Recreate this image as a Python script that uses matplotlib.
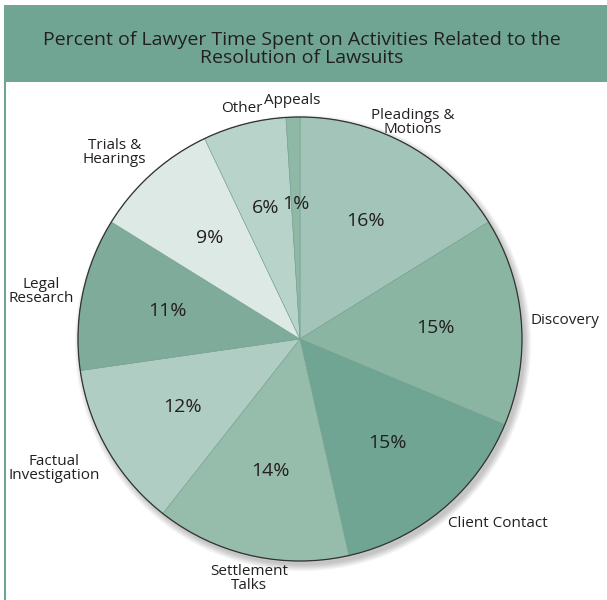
import matplotlib.pyplot as plt
from matplotlib.patches import Rectangle, Circle
import numpy as np

plt.rcParams['font.family'] = ['Open Sans', 'DejaVu Sans']

# data
activities = ['Pleadings &\nMotions', 'Discovery', 'Client Contact', 'Settlement\nTalks',
              'Factual\nInvestigation', 'Legal\nResearch', 'Trials &\nHearings', 'Other', 'Appeals']
percent = [16, 15, 15, 14, 12, 11, 9, 6, 1]
colors = ['#a3c4b8', '#8ab5a3', '#6fa592', '#96bcab', '#b0cdc3',
          '#7fac9a', '#dde9e5', '#b8d3c9', '#8fb8a6']
title = 'Percent of Lawyer Time Spent on Activities Related to the\nResolution of Lawsuits'

text_col = '#231f20'
band_col = '#6fa592'

fig = plt.figure(figsize=(6.07, 6.0), dpi=100)
ax = fig.add_axes([0, 0, 1, 1])

cx, cy, r = 300, 261, 222

# soft drop shadow
for i in range(10):
    ax.add_patch(Circle((cx + 3, cy - 4), r + i * 0.7, color='black', alpha=0.022,
                        lw=0, zorder=1))

wedges, _ = ax.pie(percent, colors=colors, startangle=90,
                   counterclock=False, center=(cx, cy), radius=r, frame=True,
                   wedgeprops=dict(edgecolor='#76a190', linewidth=0.4, zorder=2))

# outer outline
ax.add_patch(Circle((cx, cy), r, fill=False, edgecolor='#333333', lw=0.9, zorder=3))

for w, p, name in zip(wedges, percent, activities):
    ang = np.deg2rad((w.theta1 + w.theta2) / 2)
    c, s = np.cos(ang), np.sin(ang)
    # percent inside
    ax.text(cx + 0.61 * r * c, cy + 0.61 * r * s, f'{p}%',
            ha='center', va='center', fontsize=14, color=text_col, zorder=4)
    # category label outside
    ha = 'left' if c > 0.5 else ('right' if c < -0.5 else 'center')
    va = 'bottom' if s > 0.3 else ('top' if s < -0.3 else 'center')
    ax.text(cx + 1.04 * r * c, cy + 1.04 * r * s, name, ha=ha, va=va,
            multialignment='center', linespacing=0.9, fontsize=11,
            color=text_col, zorder=4)

# title band and frame
ax.add_patch(Rectangle((4, 518), 603, 77, color=band_col, lw=0, zorder=5))
ax.plot([5, 5], [0, 518], color=band_col, lw=1.5, zorder=5)
ax.text(302, 551, title, ha='center', va='center', fontsize=14, color=text_col,
        linespacing=0.95, zorder=6)

ax.set_xlim(0, 607)
ax.set_ylim(0, 600)
ax.axis('off')

fig.savefig('out.png', dpi=100)
